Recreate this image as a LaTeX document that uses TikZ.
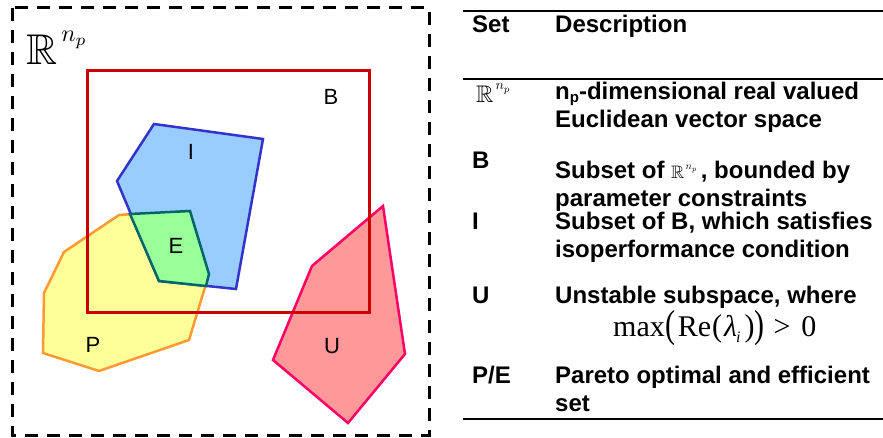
\RequirePackage{fix-cm}
\documentclass[tikz,border=0pt]{standalone}
\usepackage{amssymb}
\usepackage{graphicx}
\usepackage{fontspec}
\newfontfamily\arial{Liberation Sans}
\newfontfamily\timesf{Liberation Serif}
\definecolor{ifill}{HTML}{99CCFF}
\definecolor{idraw}{HTML}{3333CC}
\definecolor{efill}{HTML}{99FF99}
\definecolor{edraw}{HTML}{006666}
\definecolor{pfill}{HTML}{FFFF99}
\definecolor{pdraw}{HTML}{FF9933}
\definecolor{ufill}{HTML}{FF9999}
\definecolor{udraw}{HTML}{FF0066}
\definecolor{bdraw}{HTML}{CC0000}
\newcommand{\subp}{\raisebox{-0.22ex}{\fontsize{15}{15}\selectfont p}}
% #1 scale of R (x10pt), #2 scale of n_p (x10pt), #3 raise, #4 kern
\newcommand{\Rnp}[4]{\scalebox{#1}{\fontsize{10}{12}\selectfont$\mathbb{R}$}\kern#4\raisebox{#3}{\scalebox{#2}{\fontsize{10}{12}\selectfont$n_p$}}}
\begin{document}
\begin{tikzpicture}[x=1pt,y=-1pt,
  poly/.style={line width=2.5pt, line join=miter},
  lbl/.style={font=\arial\fontsize{22}{24}\selectfont, inner sep=0pt},
  tb/.style={font=\arial\bfseries\fontsize{24}{28}\selectfont, anchor=base west, inner sep=0pt},
  rulez/.style={line width=2pt}]
\useasboundingbox (0,0) rectangle (883,438);
% outer dashed space
\draw[line width=3pt, dash pattern=on 13pt off 9pt] (12,8) rectangle (429,435);
\node[anchor=base west, inner sep=0pt] (rn) at (26,65) {\Rnp{4.3}{2.4}{23pt}{4pt}};
% P
\draw[poly, draw=pdraw, fill=pfill] (44,293) -- (64,252) -- (119,215) -- (133,214) -- (206,284) -- (189,340) -- (99,371) -- (43,353) -- cycle;
% I
\draw[poly, draw=idraw, fill=ifill] (117,181) -- (154,124) -- (263,139) -- (236,289) -- (159,281) -- cycle;
% E
\draw[poly, draw=edraw, fill=efill] (130,214) -- (190,211) -- (209,274) -- (206,286) -- (159,281) -- cycle;
% U
\draw[poly, draw=udraw, fill=ufill] (312,266) -- (383,206) -- (405,354) -- (348,423) -- (273,360) -- cycle;
% B
\draw[line width=3pt, draw=bdraw] (87,71) rectangle (369,312);
% labels
\node[lbl] (lb) at (331,97) {B};
\node[lbl] (li) at (191,152) {I};
\node[lbl] (le) at (176,246) {E};
\node[lbl] (lp) at (93,345) {P};
\node[lbl] (lu) at (332,346) {U};
% table
\draw[rulez] (463,11) -- (883,11);
\draw[line width=1.5pt] (463,79) -- (883,79);
\draw[line width=2.5pt] (463,419) -- (883,419);
\node[tb] (hset) at (472,33) {Set};
\node[tb] (hdesc) at (555,33) {Description};
\node[anchor=base west, inner sep=0pt] (r1) at (476,103) {\Rnp{2.4}{1.4}{13pt}{2pt}};
\node[tb] (d1a) at (555,100) {n\subp-dimensional real valued};
\node[tb] (d1b) at (555,128) {Euclidean vector space};
\node[tb] (s2) at (472,169) {B};
\node[tb] (d2a) at (555,179) {Subset of \Rnp{1.8}{1.05}{9pt}{1.5pt}\,, bounded by};
\node[tb] (d2b) at (555,207) {parameter constraints};
\node[tb] (s3) at (472,230) {I};
\node[tb] (d3a) at (555,230) {Subset of B, which satisfies};
\node[tb] (d3b) at (555,258) {isoperformance condition};
\node[tb] (s4) at (472,303) {U};
\node[tb] (d4a) at (555,303) {Unstable subspace, where};
\node[anchor=base west, inner sep=0pt, font=\timesf\fontsize{30}{34}\selectfont] (d4b) at (613,336)
  {max\kern1pt\raisebox{-1pt}{\scalebox{1}[1.3]{(}}\kern2pt Re\kern1pt\scalebox{1}[1.05]{(}\kern2pt\textit{λ}\kern-1pt\raisebox{-6pt}{\fontsize{16}{16}\selectfont\textit{i}}\kern4pt\scalebox{1}[1.05]{)}\raisebox{-1pt}{\scalebox{1}[1.3]{)}}\kern9pt>\kern11pt0};
\node[tb] (s5) at (472,383) {P/E};
\node[tb] (d5a) at (555,383) {Pareto optimal and efficient};
\node[tb] (d5b) at (555,411) {set};
\end{tikzpicture}
\end{document}
